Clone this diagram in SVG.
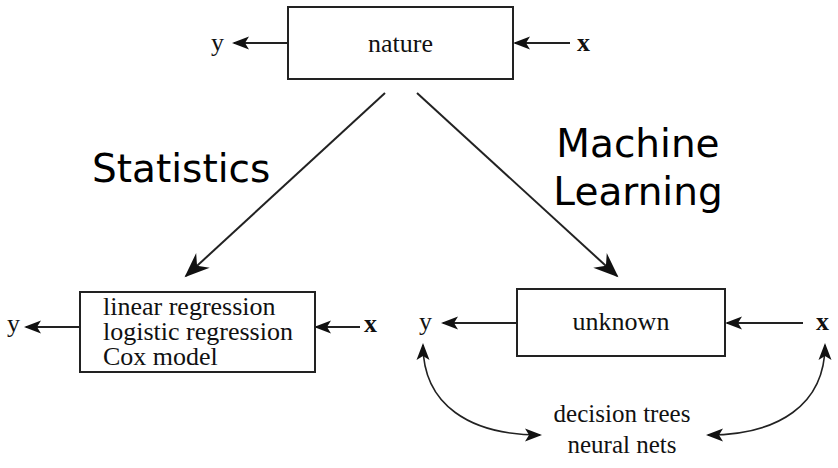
<svg xmlns="http://www.w3.org/2000/svg" width="838" height="468" viewBox="0 0 838 468">
<style>
.box{fill:#fff;stroke:#222;stroke-width:2}
.ser{font-family:"Liberation Serif","Times New Roman",serif;font-size:26px;fill:#111}
.b{font-weight:bold}
.sans{font-family:"DejaVu Sans",sans-serif;font-size:39px;fill:#000}
.ln{fill:none;stroke:#222;stroke-width:2}
.dg{fill:none;stroke:#222;stroke-width:2}
</style>
<defs>
<marker id="ah" markerUnits="userSpaceOnUse" markerWidth="20" markerHeight="14" refX="0" refY="0" orient="auto-start-reverse" overflow="visible">
<path d="M2,0 L-15,-6.5 L-11,0 L-15,6.5 Z" fill="#111"/>
</marker>
<marker id="ad" markerUnits="userSpaceOnUse" markerWidth="24" markerHeight="18" refX="0" refY="0" orient="auto" overflow="visible">
<path d="M2,0 L-23,-10 L-15,0 L-23,10 Z" fill="#111"/>
</marker>
</defs>
<g id="connectors">
<path class="ln" d="M288,43 L234,43" marker-end="url(#ah)"/>
<path class="ln" d="M570,43 L515,43" marker-end="url(#ah)"/>
<path class="dg" d="M385,93 L186,276" marker-end="url(#ad)"/>
<path class="dg" d="M417,93 L617,276" marker-end="url(#ad)"/>
<path class="ln" d="M80,327 L26,327" marker-end="url(#ah)"/>
<path class="ln" d="M360,327 L316,327" marker-end="url(#ah)"/>
<path class="ln" d="M517,323 L443,323" marker-end="url(#ah)"/>
<path class="ln" d="M803,323 L727,323" marker-end="url(#ah)"/>
<path class="ln" style="stroke-width:1.6" d="M423,345 C423,405 470,435 540,435" marker-start="url(#ah)" marker-end="url(#ah)"/>
<path class="ln" style="stroke-width:1.6" d="M825,345 C825,405 778,435 708,435" marker-start="url(#ah)" marker-end="url(#ah)"/>
</g>
<g id="nature">
<rect class="box" x="288" y="7" width="225" height="72"/>
<text class="ser" x="400.5" y="52" text-anchor="middle">nature</text>
</g>
<g id="nature-y"><text class="ser" x="211" y="51">y</text></g>
<g id="nature-x"><text class="ser b" x="577" y="51">x</text></g>
<g id="statistics-label"><text class="sans" x="92" y="182">Statistics</text></g>
<g id="ml-label">
<text class="sans" x="638" y="157" text-anchor="middle">Machine</text>
<text class="sans" x="638" y="205" text-anchor="middle">Learning</text>
</g>
<g id="models">
<rect class="box" x="80" y="292" width="235" height="80"/>
<text class="ser" x="103" y="315">linear regression</text>
<text class="ser" x="103" y="340">logistic regression</text>
<text class="ser" x="103" y="365">Cox model</text>
</g>
<g id="models-y"><text class="ser" x="7" y="332">y</text></g>
<g id="models-x"><text class="ser b" x="364" y="332">x</text></g>
<g id="unknown">
<rect class="box" x="517" y="289" width="208" height="67"/>
<text class="ser" x="621" y="330" text-anchor="middle">unknown</text>
</g>
<g id="unknown-y"><text class="ser" x="419" y="330">y</text></g>
<g id="unknown-x"><text class="ser b" x="816" y="330">x</text></g>
<g id="algorithms">
<text class="ser" x="622" y="422" text-anchor="middle" style="font-size:25px">decision trees</text>
<text class="ser" x="622" y="453" text-anchor="middle" style="font-size:25px">neural nets</text>
</g>
</svg>
